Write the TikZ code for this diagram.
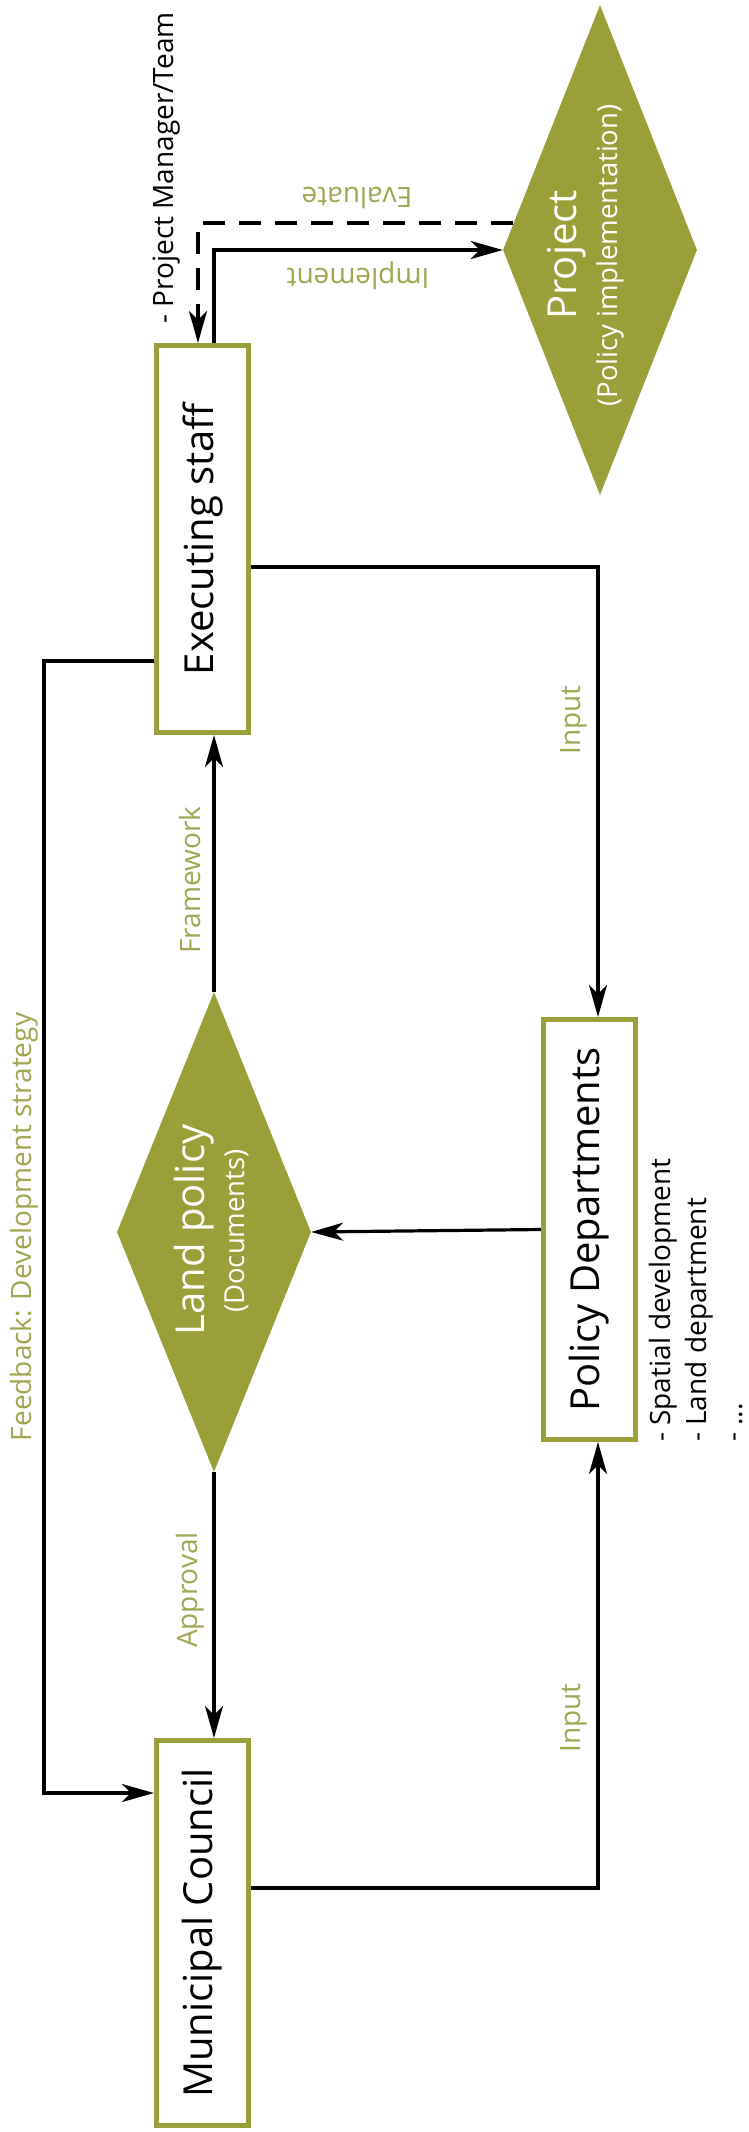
\documentclass[tikz,border=0pt]{standalone}
\usepackage{fontspec}
\setmainfont{Open Sans}
\usepackage{graphicx}
\usetikzlibrary{arrows.meta,shapes.geometric,calc}
\definecolor{leafgreen}{RGB}{155,159,58}
\definecolor{labelgreen}{RGB}{160,166,82}
\begin{document}
\begin{tikzpicture}[x=1pt,y=-1pt,
  box/.style={draw=leafgreen, line width=5pt, fill=white, inner sep=0pt,
    minimum width=92pt, font=\fontsize{40}{44}\selectfont},
  dia/.style={diamond, fill=leafgreen, inner sep=0pt,
    minimum width=194pt, minimum height=490pt},
  conn/.style={line width=3.2pt, -{Stealth[length=32pt,width=18pt,inset=9pt]}},
  evalline/.style={conn, dash pattern=on 22pt off 14pt},
  big/.style={text=white, inner sep=0pt, rotate=90, font=\fontsize{40}{44}\selectfont},
  small/.style={text=white, inner sep=0pt, rotate=90, font=\fontsize{27.5}{30}\selectfont},
  lbl/.style={text=labelgreen, font=\fontsize{28}{32}\selectfont, inner sep=0pt},
  note/.style={text=black, font=\fontsize{28}{36}\selectfont, inner sep=0pt},
]
\useasboundingbox (0,0) rectangle (748,2132);
\fill[white] (0,0) rectangle (748,2132);

% boxes
\node[box, minimum height=387pt] (exec) at (202.5,539) {\rotatebox{90}{Executing staff}};
\node[box, minimum height=385pt] (muni) at (202.5,1933) {\rotatebox{90}{Municipal Council}};
\node[box, minimum height=420pt] (pol) at (589.5,1229.5) {\rotatebox{90}{Policy Departments}};

% diamonds
\node[dia] (proj) at (600,250) {};
\node[dia, minimum height=480pt] (land) at (214,1232) {};

\node[big] (projtitle) at (567,255) {Project};
\node[small] (projsub) at (610,255.5) {(Policy implementation)};
\node[big] (landtitle) at (194.5,1230) {Land policy};
\node[small] (landsub) at (237,1231) {(Documents)};

% connectors
\coordinate (ev) at ($(proj.west)!0.11!(proj.north)$);
\draw[conn] ([xshift=11.5pt]exec.north) |- (proj.west);
\draw[evalline] (ev) -| ([xshift=-4.5pt]exec.north);
\draw[conn] (land.north) -- (land.north |- exec.south);
\draw[conn] (land.south) -- (land.south |- muni.north);
\draw[conn] (pol.west) -- (land.east);
\draw[conn] ([yshift=-28pt]exec.east) -| ([xshift=8.5pt]pol.north);
\draw[conn] ([yshift=45pt]muni.east) -| ([xshift=8.5pt]pol.south);
\coordinate (fbx) at (44,1200);
\draw[conn] ([yshift=-122pt]exec.west) -| (fbx) |- ([yshift=140pt]muni.west);

% labels
\node[lbl, rotate=180] (levaluate) at (357,198) {Evaluate};
\node[lbl, rotate=180] (limplement) at (358,276) {Implement};
\node[lbl, rotate=90] (lframework) at (190,880) {Framework};
\node[lbl, rotate=90] (linput1) at (574,720) {Input};
\node[lbl, rotate=90] (linput2) at (574,1718) {Input};
\node[lbl, rotate=90] (lapproval) at (190,1590) {Approval};
\node[lbl, rotate=90] (lfeedback) at (24,1227) {Feedback: Development strategy};
\node[note, rotate=90] (team) at (167,168) {- Project Manager/Team};
\node[note, rotate=90, anchor=north west, align=left] (deps) at (649,1442)
  {- Spatial development\\- Land department\\- ...};
\end{tikzpicture}
\end{document}
